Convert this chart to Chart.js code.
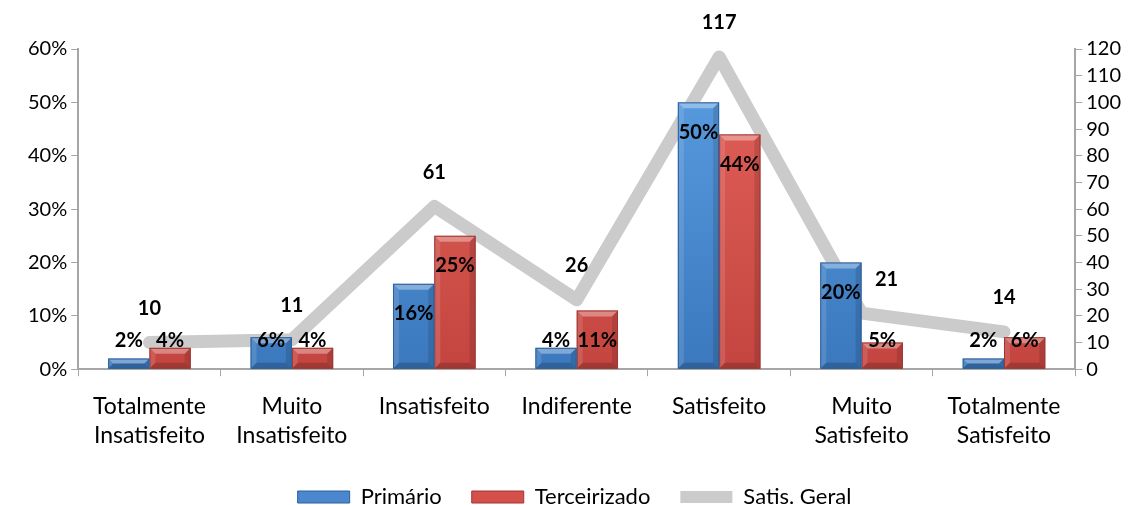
<!DOCTYPE html>
<html>
<head>
<meta charset="utf-8">
<script src="https://cdn.jsdelivr.net/npm/chart.js@4"></script>
<style>
  html, body { margin: 0; padding: 0; background: #fff; }
  #wrap { position: relative; width: 1129px; height: 505px; }
</style>
</head>
<body>
<div id="wrap"><canvas id="chart"></canvas></div>
<script>
// chart data
const categories = [
  ['Totalmente', 'Insatisfeito'],
  ['Muito', 'Insatisfeito'],
  'Insatisfeito',
  'Indiferente',
  'Satisfeito',
  ['Muito', 'Satisfeito'],
  ['Totalmente', 'Satisfeito']
];
const primario = [2, 6, 16, 4, 50, 20, 2];
const terceirizado = [4, 4, 25, 11, 44, 5, 6];
const satisGeral = [10, 11, 61, 26, 117, 21, 14];

const FONT = 'Lato, "Open Sans", sans-serif';
const AXIS = '#a6a6a6';

// vertical shading like the office bevel bars
function shade(top, bottom, flat) {
  return ctx => {
    const area = ctx.chart.chartArea;
    if (!area) return flat;
    const g = ctx.chart.ctx.createLinearGradient(0, area.top, 0, area.bottom);
    g.addColorStop(0, top);
    g.addColorStop(1, bottom);
    return g;
  };
}

// bevel look on the bars + value labels
const bevelPlugin = {
  id: 'bevel',
  afterDatasetDraw(chart, args) {
    const ds = chart.data.datasets[args.index];
    if (ds.type === 'line') return;
    const ctx = chart.ctx;
    ctx.save();
    args.meta.data.forEach(el => {
      const x0 = el.x - el.width / 2, x1 = el.x + el.width / 2;
      const y0 = el.y, y1 = el.base;
      const b = Math.min(6, (y1 - y0) / 2);
      ctx.fillStyle = 'rgba(255,255,255,0.35)';
      ctx.beginPath();
      ctx.moveTo(x0, y0); ctx.lineTo(x1, y0); ctx.lineTo(x1 - b, y0 + b); ctx.lineTo(x0 + b, y0 + b);
      ctx.closePath(); ctx.fill();
      ctx.fillStyle = 'rgba(255,255,255,0.12)';
      ctx.beginPath();
      ctx.moveTo(x0, y0); ctx.lineTo(x0 + b, y0 + b); ctx.lineTo(x0 + b, y1 - b); ctx.lineTo(x0, y1);
      ctx.closePath(); ctx.fill();
      ctx.fillStyle = 'rgba(0,0,0,0.12)';
      ctx.beginPath();
      ctx.moveTo(x1, y0); ctx.lineTo(x1 - b, y0 + b); ctx.lineTo(x1 - b, y1 - b); ctx.lineTo(x1, y1);
      ctx.closePath(); ctx.fill();
      ctx.fillStyle = 'rgba(0,0,0,0.18)';
      ctx.beginPath();
      ctx.moveTo(x0, y1); ctx.lineTo(x1, y1); ctx.lineTo(x1 - b, y1 - b); ctx.lineTo(x0 + b, y1 - b);
      ctx.closePath(); ctx.fill();
      ctx.strokeStyle = ds.borderColor;
      ctx.lineWidth = 1;
      ctx.strokeRect(x0 + 0.5, y0 + 0.5, el.width - 1, y1 - y0 - 1);
    });
    ctx.restore();
  },
  afterDatasetsDraw(chart) {
    const ctx = chart.ctx;
    ctx.save();
    ctx.font = 'bold 20px ' + FONT;
    ctx.fillStyle = '#000';
    ctx.textAlign = 'center';
    ctx.textBaseline = 'middle';
    chart.data.datasets.forEach((ds, di) => {
      const meta = chart.getDatasetMeta(di);
      meta.data.forEach((el, i) => {
        if (ds.type === 'line') {
          const shift = i === 5 ? 25 : 0;
          ctx.fillText(ds.data[i], el.x + shift, el.y - 34);
        } else {
          const y = Math.min(el.y + 30, el.base - 28);
          ctx.fillText(ds.data[i] + '%', el.x, y);
        }
      });
    });
    ctx.restore();
  }
};

new Chart(document.getElementById('chart'), {
  data: {
    labels: categories,
    datasets: [
      {
        type: 'bar', label: 'Primário', data: primario, yAxisID: 'y', order: 1,
        backgroundColor: shade('#5c9fe3', '#3b78bd', '#4a87cf'), borderColor: '#2d5f98', borderWidth: 0,
        barPercentage: 1, categoryPercentage: 0.58
      },
      {
        type: 'bar', label: 'Terceirizado', data: terceirizado, yAxisID: 'y', order: 1,
        backgroundColor: shade('#e4625c', '#c4453f', '#d5504a'), borderColor: '#9c3733', borderWidth: 0,
        barPercentage: 1, categoryPercentage: 0.58
      },
      {
        type: 'line', label: 'Satis. Geral', data: satisGeral, yAxisID: 'y2', order: 2,
        borderColor: '#cbcbcb', backgroundColor: '#cbcbcb', borderWidth: 13,
        pointRadius: 0, tension: 0, borderJoinStyle: 'round', borderCapStyle: 'round'
      }
    ]
  },
  options: {
    responsive: true,
    maintainAspectRatio: false,
    animation: false,
    layout: { padding: { top: 49, left: 24, right: 4, bottom: -13 } },
    plugins: {
      tooltip: { enabled: false },
      legend: {
        position: 'bottom',
        labels: {
          font: { family: FONT, size: 22 },
          color: '#000',
          boxWidth: 52, boxHeight: 12, padding: 30,
          generateLabels(chart) {
            return chart.data.datasets.map((ds, i) => ({
              text: ds.label,
              fillStyle: ds.type === 'line' ? '#cbcbcb' : (i === 0 ? '#4a87cf' : '#d5504a'),
              strokeStyle: ds.type === 'line' ? '#cbcbcb' : ds.borderColor,
              lineWidth: ds.type === 'line' ? 0 : 1,
              fontColor: '#000',
              datasetIndex: i
            }));
          }
        }
      }
    },
    scales: {
      x: {
        offset: true,
        grid: { display: true, offset: true, drawOnChartArea: false, color: AXIS, tickLength: 7 },
        border: { color: AXIS, width: 2 },
        ticks: { color: '#000', font: { family: FONT, size: 23, lineHeight: 1.3 }, maxRotation: 0, autoSkip: false, padding: 15 },
        afterFit(scale) { scale.height -= 10; }
      },
      y: {
        position: 'left', min: 0, max: 60,
        grid: { drawOnChartArea: false, color: AXIS, tickLength: 7 },
        border: { color: AXIS, width: 2 },
        ticks: { stepSize: 10, autoSkip: false, color: '#000', font: { family: FONT, size: 20 }, padding: 4, callback: v => v + '%' }
      },
      y2: {
        position: 'right', min: 0, max: 120,
        grid: { drawOnChartArea: false, color: AXIS, tickLength: 7 },
        border: { color: AXIS, width: 2 },
        ticks: { stepSize: 10, autoSkip: false, color: '#000', font: { family: FONT, size: 20 }, padding: 4 }
      }
    }
  },
  plugins: [bevelPlugin]
});
</script>
</body>
</html>
